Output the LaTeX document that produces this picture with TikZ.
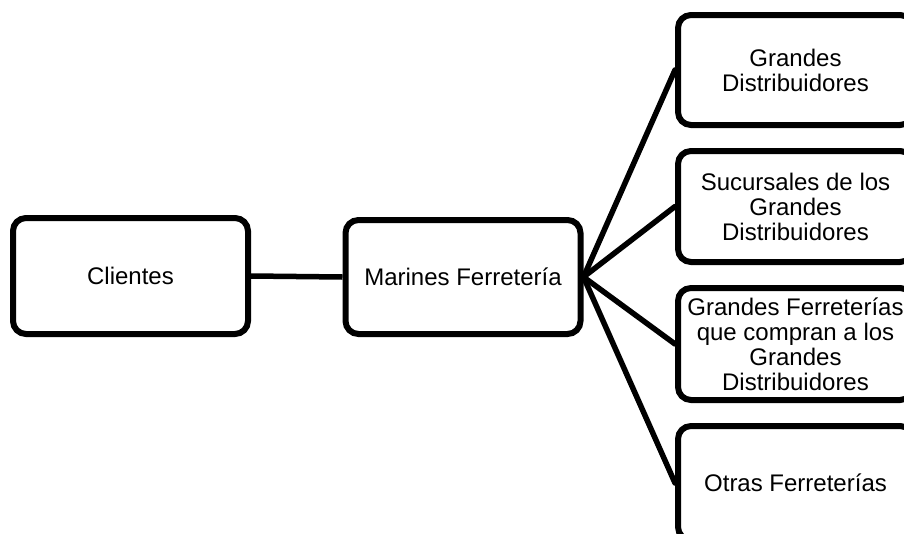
\documentclass[tikz,border=0pt]{standalone}
\usepackage{fontspec}
\setmainfont{Liberation Sans}
\begin{document}
\begin{tikzpicture}[x=1pt,y=-1pt,
  box/.style={draw=black, line width=6pt, rounded corners=13pt, fill=white,
    minimum width=235pt, minimum height=#1, align=center, inner sep=2pt,
    font=\fontsize{24}{25}\selectfont},
  box/.default=115pt,
  link/.style={draw=black, line width=5.5pt}]
\clip (0,0) rectangle (904,533);
\fill[white] (0,0) rectangle (904,533);

% central chain
\node[box=116pt] (cl) at (130.5,276) {Clientes};
\node[box=114pt] (mf) at (463,277) {Marines Ferretería};

% customer groups on the right
\node[box=110pt] (r1) at (795.5,70) {Grandes\\Distribuidores};
\node[box=111pt] (r2) at (795.5,206.5) {Sucursales de los\\Grandes\\Distribuidores};
\node[box=112pt] (r3) at (795.5,344) {Grandes Ferreterías\\que compran a los\\Grandes\\Distribuidores};
\node[box=114pt] (r4) at (795.5,483) {Otras Ferreterías};

% connectors
\draw[link] (cl.east) -- (mf.west);
\foreach \r in {r1,r2,r3,r4}
  \draw[link, line cap=round] (mf.east) -- (\r.west);
\end{tikzpicture}
\end{document}
